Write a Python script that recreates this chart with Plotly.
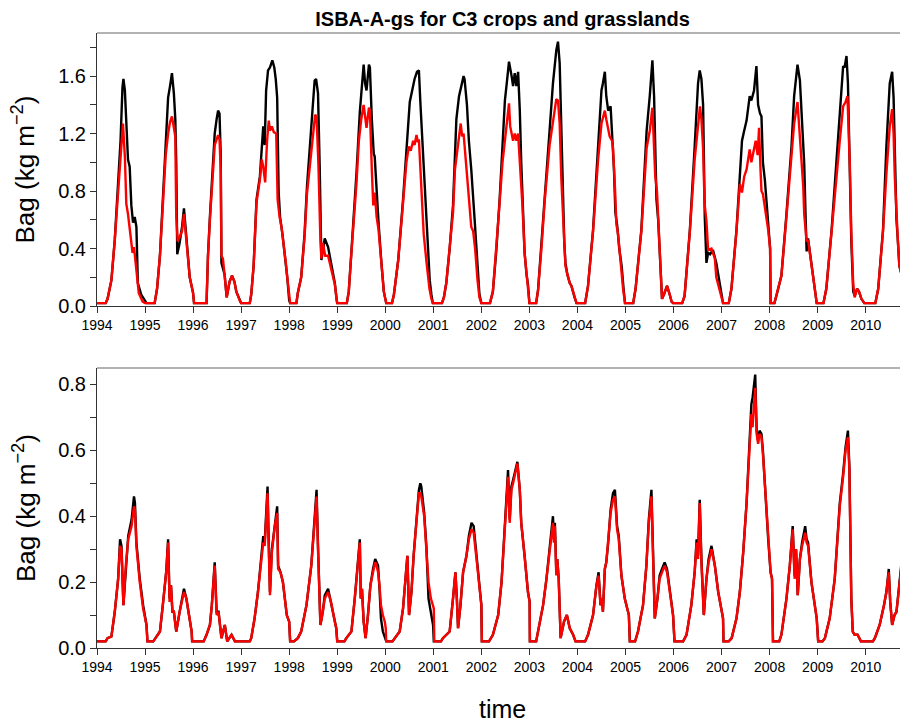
import plotly.graph_objects as go

# ---------------- data (decimal years, Bag in kg m-2) ----------------
years = list(range(1994, 2011))
year_labels = [str(y) for y in years]

top_black_t = [
 1994.00,1994.18,1994.22,1994.30,1994.37,1994.44,1994.49,1994.53,1994.55,1994.58,1994.61,1994.645,1994.68,1994.715,1994.75,1994.785,1994.82,1994.85,1994.92,1994.99,1995.03,
 1995.20,1995.25,1995.31,1995.37,1995.43,1995.48,1995.52,1995.56,1995.60,1995.63,1995.65,1995.67,1995.72,1995.77,1995.81,1995.86,1995.93,1996.00,1996.02,
 1996.28,1996.31,1996.35,1996.38,1996.45,1996.49,1996.52,1996.55,1996.575,1996.59,1996.62,1996.655,1996.70,1996.76,1996.81,1996.86,1996.90,1996.98,1997.00,
 1997.18,1997.21,1997.26,1997.30,1997.32,1997.39,1997.43,1997.46,1997.49,1997.52,1997.56,1997.60,1997.65,1997.69,1997.72,1997.75,1997.78,1997.81,1997.86,1997.93,1997.96,1998.00,1998.02,
 1998.15,1998.18,1998.25,1998.32,1998.37,1998.43,1998.475,1998.53,1998.56,1998.60,1998.635,1998.67,1998.70,1998.74,1998.81,1998.88,1998.95,1998.99,1999.00,
 1999.20,1999.24,1999.28,1999.33,1999.40,1999.47,1999.52,1999.55,1999.58,1999.61,1999.66,1999.68,1999.72,1999.76,1999.78,1999.82,1999.86,1999.92,1999.97,2000.02,
 2000.14,2000.18,2000.27,2000.37,2000.44,2000.49,2000.51,2000.56,2000.61,2000.66,2000.70,2000.73,2000.785,2000.82,2000.86,2000.89,2000.925,2000.96,2000.99,
 2001.18,2001.22,2001.27,2001.34,2001.41,2001.45,2001.48,2001.535,2001.585,2001.63,2001.65,2001.70,2001.74,2001.79,2001.86,2001.92,2001.96,2002.00,
 2002.18,2002.24,2002.31,2002.38,2002.44,2002.49,2002.535,2002.575,2002.63,2002.66,2002.695,2002.73,2002.765,2002.80,2002.83,2002.855,2002.90,2002.94,2002.97,2003.00,
 2003.14,2003.18,2003.25,2003.32,2003.42,2003.49,2003.56,2003.595,2003.63,2003.665,2003.70,2003.725,2003.75,2003.79,2003.84,2003.875,2003.94,2003.98,
 2004.16,2004.22,2004.325,2004.43,2004.50,2004.53,2004.57,2004.60,2004.64,2004.69,2004.72,2004.76,2004.79,2004.83,2004.87,2004.92,2004.96,2004.99,
 2005.16,2005.21,2005.33,2005.44,2005.505,2005.56,2005.595,2005.62,2005.645,2005.68,2005.71,2005.735,2005.76,2005.80,2005.865,2005.92,2005.96,2005.99,
 2006.18,2006.23,2006.34,2006.44,2006.51,2006.545,2006.58,2006.615,2006.635,2006.65,2006.685,2006.72,2006.76,2006.82,2006.89,2006.96,2007.00,2007.03,
 2007.15,2007.205,2007.31,2007.38,2007.425,2007.47,2007.52,2007.585,2007.62,2007.675,2007.725,2007.76,2007.80,2007.83,2007.86,2007.90,2007.97,2008.01,2008.02,
 2008.10,2008.14,2008.245,2008.35,2008.455,2008.51,2008.58,2008.63,2008.675,2008.72,2008.75,2008.77,2008.80,2008.87,2008.94,2008.98,
 2009.12,2009.18,2009.29,2009.39,2009.46,2009.53,2009.56,2009.60,2009.63,2009.66,2009.70,2009.74,2009.77,2009.82,2009.86,2009.91,2009.97,
 2010.20,2010.26,2010.36,2010.43,2010.50,2010.55,2010.58,2010.605,2010.64,2010.67,2010.70,2010.745,2010.78,2010.81,2010.87]
top_black_v = [
 0.02,0.02,0.05,0.18,0.46,0.83,1.15,1.52,1.58,1.50,1.22,1.02,0.97,0.70,0.58,0.62,0.55,0.16,0.08,0.04,0.02,
 0.02,0.12,0.35,0.75,1.15,1.45,1.53,1.62,1.48,1.30,0.99,0.36,0.44,0.55,0.68,0.48,0.20,0.09,0.02,
 0.02,0.35,0.62,0.80,1.20,1.30,1.36,1.34,1.05,0.30,0.27,0.22,0.06,0.17,0.21,0.17,0.10,0.03,0.02,
 0.02,0.08,0.28,0.60,0.74,0.90,1.15,1.25,1.12,1.50,1.64,1.66,1.71,1.66,1.58,1.45,0.80,0.62,0.50,0.30,0.20,0.04,0.02,
 0.02,0.09,0.20,0.50,0.83,1.11,1.36,1.57,1.58,1.48,0.97,0.32,0.38,0.47,0.41,0.27,0.16,0.04,0.02,
 0.02,0.10,0.30,0.55,0.92,1.35,1.60,1.68,1.55,1.50,1.68,1.66,1.30,1.06,1.04,0.80,0.58,0.30,0.10,0.02,
 0.02,0.08,0.32,0.74,1.06,1.30,1.42,1.50,1.58,1.63,1.64,1.42,1.08,0.85,0.55,0.34,0.18,0.08,0.02,
 0.02,0.06,0.16,0.40,0.70,1.05,1.30,1.46,1.53,1.60,1.58,1.40,1.15,0.95,0.60,0.28,0.08,0.02,
 0.02,0.10,0.38,0.74,1.08,1.43,1.57,1.70,1.60,1.53,1.62,1.53,1.63,1.36,1.00,0.74,0.37,0.22,0.15,0.02,
 0.02,0.11,0.41,0.76,1.22,1.55,1.78,1.84,1.69,1.22,0.78,0.45,0.30,0.22,0.16,0.14,0.06,0.02,
 0.02,0.14,0.53,1.11,1.50,1.55,1.63,1.46,1.36,1.39,1.22,0.95,0.65,0.55,0.40,0.28,0.12,0.02,
 0.02,0.12,0.53,1.22,1.46,1.71,1.46,0.99,0.74,0.60,0.40,0.20,0.05,0.08,0.14,0.08,0.03,0.02,
 0.02,0.07,0.53,1.11,1.55,1.64,1.58,1.40,1.00,0.62,0.30,0.37,0.36,0.39,0.30,0.16,0.06,0.02,
 0.02,0.12,0.53,0.88,1.15,1.22,1.29,1.46,1.43,1.50,1.67,1.40,1.34,1.32,1.00,0.88,0.57,0.40,0.02,
 0.02,0.07,0.21,0.64,1.11,1.46,1.68,1.57,1.22,0.99,0.60,0.38,0.47,0.30,0.15,0.02,
 0.02,0.12,0.53,0.99,1.34,1.67,1.66,1.74,1.55,1.00,0.45,0.10,0.07,0.12,0.10,0.05,0.02,
 0.02,0.12,0.53,1.11,1.55,1.63,1.45,1.00,0.60,0.45,0.28,0.22,0.34,0.33,0.36]

top_red_t = [
 1994.00,1994.18,1994.22,1994.30,1994.37,1994.44,1994.49,1994.54,1994.58,1994.61,1994.645,1994.68,1994.74,1994.77,1994.79,1994.82,1994.87,1994.95,1995.00,
 1995.20,1995.25,1995.31,1995.37,1995.43,1995.48,1995.52,1995.56,1995.60,1995.63,1995.65,1995.68,1995.72,1995.77,1995.81,1995.86,1995.93,1996.00,1996.02,
 1996.28,1996.31,1996.35,1996.38,1996.45,1996.49,1996.52,1996.55,1996.575,1996.59,1996.62,1996.655,1996.70,1996.76,1996.81,1996.86,1996.90,1996.98,1997.00,
 1997.18,1997.21,1997.26,1997.30,1997.32,1997.39,1997.43,1997.46,1997.50,1997.54,1997.575,1997.60,1997.64,1997.68,1997.73,1997.76,1997.80,1997.84,1997.88,1997.93,1997.96,1998.00,1998.02,
 1998.15,1998.18,1998.25,1998.32,1998.37,1998.42,1998.46,1998.50,1998.54,1998.57,1998.61,1998.65,1998.67,1998.70,1998.75,1998.81,1998.88,1998.95,1998.99,1999.00,
 1999.20,1999.24,1999.28,1999.33,1999.40,1999.45,1999.50,1999.55,1999.58,1999.61,1999.66,1999.68,1999.72,1999.75,1999.78,1999.82,1999.86,1999.92,1999.97,2000.02,
 2000.14,2000.18,2000.27,2000.37,2000.44,2000.49,2000.53,2000.58,2000.61,2000.65,2000.68,2000.70,2000.75,2000.80,2000.86,2000.92,2000.96,2000.99,
 2001.18,2001.22,2001.27,2001.34,2001.41,2001.45,2001.48,2001.535,2001.57,2001.60,2001.63,2001.65,2001.68,2001.72,2001.76,2001.79,2001.83,2001.87,2001.92,2001.96,2002.00,
 2002.18,2002.24,2002.31,2002.38,2002.44,2002.49,2002.535,2002.575,2002.60,2002.63,2002.66,2002.695,2002.73,2002.765,2002.80,2002.83,2002.855,2002.90,2002.94,2002.97,2003.00,
 2003.14,2003.18,2003.25,2003.32,2003.42,2003.49,2003.52,2003.56,2003.595,2003.63,2003.665,2003.70,2003.725,2003.75,2003.79,2003.84,2003.875,2003.94,2003.98,
 2004.16,2004.22,2004.325,2004.43,2004.50,2004.57,2004.60,2004.64,2004.67,2004.72,2004.74,2004.78,2004.81,2004.845,2004.88,2004.92,2004.95,2004.99,
 2005.16,2005.21,2005.33,2005.44,2005.505,2005.56,2005.595,2005.62,2005.655,2005.68,2005.71,2005.735,2005.76,2005.80,2005.865,2005.92,2005.96,2005.99,
 2006.18,2006.23,2006.34,2006.44,2006.51,2006.55,2006.58,2006.615,2006.635,2006.65,2006.685,2006.72,2006.79,2006.86,2006.89,2006.96,2007.00,2007.03,
 2007.15,2007.205,2007.31,2007.38,2007.425,2007.47,2007.52,2007.585,2007.62,2007.675,2007.71,2007.75,2007.78,2007.81,2007.83,2007.86,2007.90,2007.97,2008.01,2008.02,
 2008.10,2008.14,2008.245,2008.35,2008.455,2008.51,2008.58,2008.63,2008.675,2008.70,2008.72,2008.77,2008.80,2008.87,2008.94,2008.98,
 2009.12,2009.18,2009.29,2009.39,2009.46,2009.53,2009.58,2009.62,2009.64,2009.67,2009.70,2009.74,2009.77,2009.82,2009.86,2009.91,2009.97,
 2010.20,2010.26,2010.36,2010.43,2010.50,2010.55,2010.58,2010.605,2010.64,2010.67,2010.70,2010.745,2010.78,2010.81,2010.87]
top_red_v = [
 0.02,0.02,0.05,0.18,0.46,0.80,1.05,1.27,1.04,0.71,0.64,0.55,0.37,0.41,0.34,0.27,0.09,0.03,0.02,
 0.02,0.12,0.35,0.72,1.05,1.20,1.28,1.32,1.25,1.18,0.62,0.45,0.48,0.52,0.64,0.45,0.20,0.09,0.02,
 0.02,0.35,0.60,0.78,1.12,1.16,1.19,1.16,0.95,0.35,0.33,0.22,0.06,0.17,0.21,0.17,0.10,0.03,0.02,
 0.02,0.08,0.28,0.58,0.72,0.88,1.02,0.97,0.86,1.15,1.29,1.22,1.25,1.21,1.20,0.74,0.62,0.55,0.45,0.30,0.20,0.04,0.02,
 0.02,0.09,0.20,0.48,0.78,0.95,1.05,1.18,1.33,1.32,0.97,0.46,0.33,0.44,0.35,0.35,0.25,0.15,0.04,0.02,
 0.02,0.10,0.30,0.52,0.85,1.15,1.30,1.40,1.30,1.24,1.38,1.36,0.95,0.70,0.79,0.62,0.53,0.30,0.10,0.02,
 0.02,0.08,0.32,0.72,1.00,1.11,1.08,1.15,1.12,1.19,1.14,1.16,0.83,0.50,0.30,0.12,0.05,0.02,
 0.02,0.06,0.16,0.40,0.65,0.95,1.04,1.18,1.27,1.18,1.20,1.12,1.00,0.85,0.65,0.55,0.52,0.40,0.18,0.06,0.02,
 0.02,0.10,0.38,0.72,1.00,1.15,1.25,1.41,1.25,1.20,1.15,1.20,1.15,1.20,1.02,0.85,0.70,0.37,0.22,0.15,0.02,
 0.02,0.11,0.40,0.74,1.12,1.27,1.35,1.44,1.43,1.27,0.88,0.60,0.40,0.28,0.22,0.16,0.14,0.06,0.02,
 0.02,0.14,0.52,1.02,1.27,1.36,1.30,1.22,1.18,1.15,1.10,0.83,0.57,0.50,0.36,0.22,0.12,0.02,
 0.02,0.12,0.52,1.10,1.22,1.38,1.15,0.90,0.80,0.62,0.40,0.20,0.05,0.08,0.14,0.08,0.03,0.02,
 0.02,0.07,0.52,1.02,1.28,1.39,1.30,1.10,0.85,0.70,0.59,0.39,0.40,0.33,0.20,0.10,0.04,0.02,
 0.02,0.12,0.52,0.85,0.79,0.90,0.95,1.09,1.00,1.11,1.15,1.05,1.24,0.95,0.80,0.78,0.70,0.53,0.40,0.02,
 0.02,0.07,0.21,0.62,1.05,1.27,1.42,1.20,1.00,0.83,0.64,0.45,0.46,0.29,0.13,0.02,
 0.02,0.12,0.52,0.92,1.15,1.39,1.42,1.46,1.30,0.97,0.51,0.15,0.06,0.12,0.10,0.05,0.02,
 0.02,0.12,0.52,0.92,1.25,1.37,1.20,0.90,0.62,0.45,0.28,0.22,0.34,0.33,0.36]

bottom_t = [
 1994.00,1994.18,1994.22,1994.30,1994.37,1994.44,1994.48,1994.51,1994.55,1994.60,1994.65,1994.72,1994.77,1994.79,1994.82,1994.89,1994.96,1995.03,1995.05,
 1995.17,1995.22,1995.31,1995.37,1995.44,1995.48,1995.51,1995.54,1995.57,1995.60,1995.65,1995.72,1995.77,1995.81,1995.86,1995.92,1995.97,1995.98,
 1996.22,1996.28,1996.35,1996.39,1996.45,1996.49,1996.53,1996.59,1996.66,1996.71,1996.80,1996.87,
 1997.18,1997.21,1997.28,1997.35,1997.42,1997.46,1997.49,1997.55,1997.57,1997.60,1997.64,1997.70,1997.75,1997.77,1997.82,1997.87,1997.91,1997.95,1998.00,1998.02,
 1998.10,1998.18,1998.25,1998.36,1998.46,1998.53,1998.57,1998.60,1998.65,1998.70,1998.74,1998.81,1998.87,1998.95,1998.98,1999.00,
 1999.15,1999.19,1999.295,1999.365,1999.41,1999.47,1999.49,1999.515,1999.55,1999.59,1999.64,1999.69,1999.745,1999.79,1999.82,1999.85,1999.88,1999.91,1999.95,1999.99,2000.01,2000.02,
 2000.15,2000.195,2000.30,2000.37,2000.425,2000.46,2000.495,2000.545,2000.59,2000.65,2000.70,2000.73,2000.75,2000.81,2000.855,2000.90,2000.95,2000.995,2001.01,2001.02,
 2001.16,2001.20,2001.34,2001.41,2001.46,2001.49,2001.515,2001.565,2001.62,2001.69,2001.74,2001.795,2001.84,2001.90,2001.97,2002.00,2002.01,
 2002.16,2002.24,2002.35,2002.42,2002.49,2002.555,2002.59,2002.625,2002.66,2002.695,2002.75,2002.80,2002.83,2002.90,2002.97,2003.005,2003.01,
 2003.14,2003.18,2003.285,2003.355,2003.42,2003.49,2003.51,2003.53,2003.56,2003.58,2003.61,2003.65,2003.72,2003.78,2003.84,2003.91,2003.96,
 2004.16,2004.22,2004.325,2004.395,2004.44,2004.48,2004.51,2004.53,2004.57,2004.60,2004.64,2004.69,2004.74,2004.78,2004.825,2004.86,2004.915,2004.985,2005.07,2005.09,
 2005.20,2005.26,2005.365,2005.435,2005.485,2005.54,2005.56,2005.58,2005.61,2005.665,2005.71,2005.76,2005.815,2005.865,2005.92,2005.99,2006.02,
 2006.20,2006.27,2006.37,2006.44,2006.48,2006.51,2006.545,2006.58,2006.63,2006.685,2006.73,2006.79,2006.86,2006.93,2007.00,2007.03,2007.04,
 2007.15,2007.21,2007.31,2007.38,2007.45,2007.52,2007.57,2007.62,2007.645,2007.66,2007.70,2007.73,2007.76,2007.79,2007.83,2007.86,2007.91,2007.97,2008.02,2008.05,2008.07,
 2008.20,2008.245,2008.35,2008.42,2008.48,2008.52,2008.55,2008.585,2008.63,2008.675,2008.74,2008.77,2008.80,2008.87,2008.94,2008.98,2009.01,
 2009.10,2009.15,2009.25,2009.355,2009.46,2009.53,2009.58,2009.63,2009.66,2009.70,2009.73,2009.77,2009.83,2009.90,
 2010.15,2010.19,2010.29,2010.38,2010.43,2010.48,2010.51,2010.55,2010.60,2010.64,2010.71,2010.76,2010.80,2010.87]
bottom_black_v = [
 0.02,0.02,0.03,0.035,0.11,0.21,0.33,0.31,0.13,0.25,0.34,0.39,0.46,0.44,0.32,0.21,0.13,0.07,0.02,
 0.02,0.03,0.05,0.13,0.23,0.33,0.15,0.19,0.11,0.11,0.05,0.11,0.15,0.18,0.15,0.09,0.05,0.02,
 0.02,0.04,0.07,0.13,0.26,0.11,0.11,0.03,0.07,0.02,0.04,0.02,
 0.02,0.03,0.09,0.17,0.27,0.34,0.32,0.49,0.35,0.17,0.30,0.38,0.43,0.25,0.23,0.20,0.15,0.10,0.08,0.02,
 0.02,0.03,0.05,0.13,0.25,0.40,0.48,0.31,0.07,0.11,0.16,0.18,0.14,0.08,0.06,0.02,
 0.02,0.03,0.05,0.15,0.23,0.33,0.15,0.18,0.08,0.03,0.10,0.19,0.24,0.27,0.26,0.25,0.18,0.09,0.05,0.03,0.02,0.02,
 0.02,0.03,0.05,0.12,0.21,0.28,0.10,0.17,0.28,0.39,0.48,0.50,0.49,0.41,0.31,0.15,0.10,0.07,0.02,0.02,
 0.02,0.03,0.05,0.15,0.23,0.15,0.06,0.13,0.23,0.28,0.34,0.38,0.37,0.28,0.16,0.13,0.02,
 0.02,0.04,0.10,0.20,0.39,0.54,0.39,0.49,0.51,0.53,0.565,0.48,0.38,0.28,0.17,0.14,0.02,
 0.02,0.05,0.13,0.21,0.30,0.40,0.33,0.38,0.23,0.27,0.21,0.03,0.08,0.10,0.06,0.04,0.02,
 0.02,0.04,0.10,0.19,0.23,0.13,0.15,0.11,0.24,0.26,0.32,0.42,0.47,0.48,0.37,0.34,0.22,0.15,0.10,0.02,
 0.02,0.05,0.13,0.25,0.39,0.48,0.36,0.21,0.09,0.15,0.22,0.24,0.26,0.24,0.17,0.10,0.02,
 0.02,0.04,0.13,0.23,0.33,0.28,0.45,0.27,0.10,0.21,0.27,0.31,0.25,0.17,0.11,0.09,0.02,
 0.02,0.03,0.09,0.17,0.29,0.44,0.60,0.74,0.76,0.78,0.83,0.66,0.63,0.66,0.65,0.60,0.47,0.33,0.23,0.21,0.02,
 0.02,0.04,0.15,0.25,0.37,0.22,0.30,0.16,0.27,0.32,0.37,0.33,0.32,0.20,0.13,0.09,0.02,
 0.02,0.03,0.09,0.21,0.44,0.53,0.61,0.66,0.55,0.15,0.05,0.04,0.04,0.02,
 0.02,0.03,0.07,0.13,0.17,0.24,0.14,0.07,0.10,0.11,0.22,0.28,0.27,0.23]
bottom_red_v = [
 0.02,0.02,0.03,0.035,0.11,0.21,0.31,0.30,0.13,0.25,0.33,0.37,0.43,0.42,0.31,0.20,0.12,0.07,0.02,
 0.02,0.03,0.05,0.13,0.23,0.32,0.14,0.19,0.11,0.11,0.05,0.11,0.15,0.17,0.15,0.09,0.05,0.02,
 0.02,0.04,0.07,0.13,0.25,0.10,0.11,0.03,0.07,0.02,0.04,0.02,
 0.02,0.03,0.09,0.17,0.27,0.32,0.31,0.47,0.33,0.16,0.29,0.37,0.41,0.24,0.23,0.20,0.15,0.10,0.08,0.02,
 0.02,0.03,0.05,0.13,0.25,0.39,0.46,0.30,0.07,0.11,0.15,0.17,0.14,0.08,0.06,0.02,
 0.02,0.03,0.05,0.15,0.23,0.32,0.15,0.18,0.08,0.03,0.10,0.19,0.23,0.26,0.25,0.23,0.19,0.13,0.10,0.08,0.06,0.02,
 0.02,0.03,0.05,0.12,0.21,0.28,0.10,0.17,0.28,0.38,0.47,0.47,0.46,0.40,0.31,0.20,0.15,0.13,0.12,0.02,
 0.02,0.03,0.05,0.15,0.23,0.15,0.06,0.13,0.23,0.28,0.33,0.36,0.35,0.27,0.16,0.13,0.02,
 0.02,0.04,0.10,0.20,0.38,0.52,0.38,0.48,0.50,0.52,0.56,0.48,0.38,0.28,0.17,0.14,0.02,
 0.02,0.05,0.13,0.21,0.30,0.38,0.32,0.37,0.22,0.27,0.21,0.03,0.08,0.10,0.06,0.04,0.02,
 0.02,0.04,0.10,0.19,0.22,0.13,0.15,0.11,0.24,0.26,0.32,0.41,0.45,0.46,0.36,0.33,0.22,0.15,0.10,0.02,
 0.02,0.05,0.13,0.25,0.38,0.46,0.35,0.21,0.09,0.15,0.21,0.23,0.25,0.23,0.17,0.10,0.02,
 0.02,0.04,0.13,0.23,0.32,0.27,0.44,0.26,0.10,0.21,0.26,0.30,0.25,0.17,0.11,0.09,0.02,
 0.02,0.03,0.09,0.17,0.29,0.44,0.59,0.71,0.67,0.70,0.79,0.65,0.62,0.65,0.64,0.59,0.47,0.33,0.23,0.21,0.02,
 0.02,0.04,0.15,0.25,0.36,0.21,0.30,0.16,0.27,0.31,0.35,0.32,0.31,0.20,0.13,0.09,0.02,
 0.02,0.03,0.09,0.21,0.43,0.52,0.60,0.64,0.54,0.15,0.05,0.04,0.04,0.02,
 0.02,0.03,0.07,0.13,0.17,0.23,0.14,0.07,0.10,0.11,0.21,0.27,0.26,0.22]

title_text = "ISBA-A-gs for C3 crops and grasslands"
ylabel = "Bag (kg m<sup>\u22122</sup>)"
xlabel = "time"

# ---------------- figure ----------------
# The page body has an 8px margin, so the figure is placed at (8, 8).
FONT = "Liberation Sans, Arial, Helvetica, sans-serif"
W, H = 900, 715
L, T = 89, 25
AXIS_Y = 640                 # bottom axis of the lower panel, in figure pixels
B = H - AXIS_Y
PW = W - L
PH = H - T - B
LW = 2.4

fig = go.Figure()
fig.add_trace(go.Scatter(x=top_black_t, y=top_black_v, mode="lines",
                         line=dict(color="black", width=LW), xaxis="x", yaxis="y", showlegend=False))
fig.add_trace(go.Scatter(x=top_red_t, y=top_red_v, mode="lines",
                         line=dict(color="#ff0000", width=LW), xaxis="x", yaxis="y", showlegend=False))
fig.add_trace(go.Scatter(x=bottom_t, y=bottom_black_v, mode="lines",
                         line=dict(color="black", width=LW), xaxis="x2", yaxis="y2", showlegend=False))
fig.add_trace(go.Scatter(x=bottom_t, y=bottom_red_v, mode="lines",
                         line=dict(color="#ff0000", width=LW), xaxis="x2", yaxis="y2", showlegend=False))

AX = dict(showline=True, linecolor="#333333", linewidth=1, ticks="outside", ticklen=6,
          tickcolor="#333333", tickwidth=1, showgrid=False, zeroline=False, automargin=False)
xr = [1994.0, 2010.88]
xcommon = dict(AX, range=xr, tickmode="array", tickvals=years, ticktext=year_labels,
               tickfont=dict(size=14, family=FONT, color="black"))

top_dom = [(AXIS_Y - 298) / PH, 1.0]
bot_dom = [0.0, (AXIS_Y - 360) / PH]
ylab_x = (16 - L) / PW

fig.update_layout(
    width=W, height=H,
    margin=dict(l=L, r=0, t=T, b=B),
    plot_bgcolor="white", paper_bgcolor="white",
    font=dict(family=FONT, color="black"),
    xaxis=dict(xcommon, domain=[0, 1], anchor="y"),
    yaxis=dict(AX, domain=top_dom, anchor="x", range=[0, 1.9], tick0=0, dtick=0.4,
               tickformat=".1f", tickfont=dict(size=20, family=FONT, color="black"),
               minor=dict(dtick=0.2, ticks="outside", ticklen=6, tickcolor="#333333")),
    xaxis2=dict(xcommon, domain=[0, 1], anchor="y2"),
    yaxis2=dict(AX, domain=bot_dom, anchor="x2", range=[0, 0.85], tick0=0, dtick=0.2,
                tickformat=".1f", tickfont=dict(size=20, family=FONT, color="black"),
                minor=dict(dtick=0.1, ticks="outside", ticklen=6, tickcolor="#333333")),
    title=dict(text="<b>" + title_text + "</b>", x=0.5, xref="paper", xanchor="center",
               y=1.0, yref="container", yanchor="top", pad=dict(t=4, b=0),
               font=dict(size=20, family=FONT, color="black")),
    shapes=[
        dict(type="line", xref="paper", x0=0, x1=1, yref="y domain", y0=1, y1=1,
             line=dict(color="#999999", width=1.5)),
        dict(type="line", xref="paper", x0=0, x1=1, yref="y2 domain", y0=1, y1=1,
             line=dict(color="#999999", width=1.5)),
    ],
    annotations=[
        dict(text=ylabel, xref="paper", yref="paper", x=ylab_x, y=(top_dom[0] + top_dom[1]) / 2,
             xanchor="center", yanchor="middle", textangle=-90, showarrow=False,
             font=dict(size=26, family=FONT, color="black")),
        dict(text=ylabel, xref="paper", yref="paper", x=ylab_x, y=(bot_dom[0] + bot_dom[1]) / 2,
             xanchor="center", yanchor="middle", textangle=-90, showarrow=False,
             font=dict(size=26, family=FONT, color="black")),
        dict(text=xlabel, xref="paper", yref="paper", x=0.5, y=(AXIS_Y - 701) / PH,
             xanchor="center", yanchor="middle", showarrow=False,
             font=dict(size=25, family=FONT, color="black")),
    ],
)

fig.write_html("out.html")
